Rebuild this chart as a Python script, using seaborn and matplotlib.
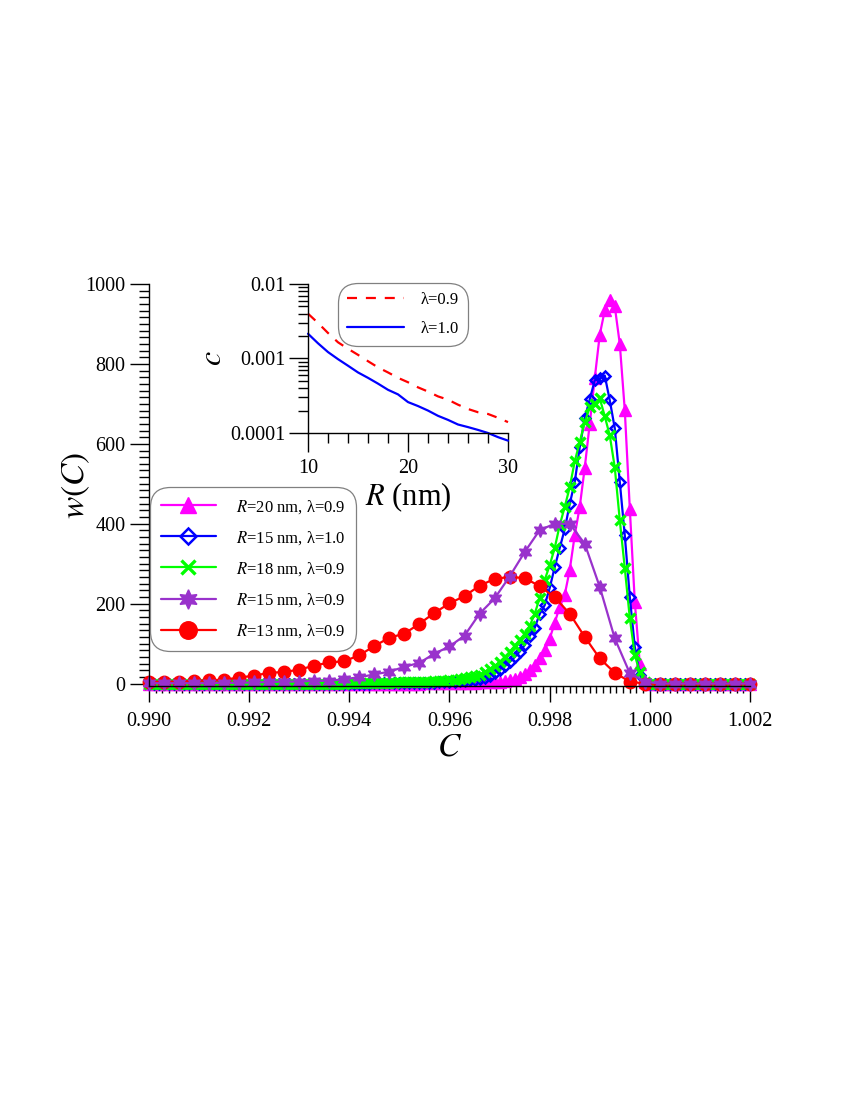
import numpy as np
import matplotlib
matplotlib.use("Agg")
import matplotlib.pyplot as plt
import seaborn as sns
from matplotlib.ticker import MultipleLocator, AutoMinorLocator, FixedLocator, FuncFormatter

# ---- main plot data: w(C) ----
# three curves sampled every 0.0001, two every 0.0003
c_fine = np.round(np.linspace(0.990, 1.002, 121), 4)
c_coarse = np.round(np.linspace(0.990, 1.002, 41), 4)

w_r20_l09 = ([0] * 50 +
             [0, 0, 0, 0, 0, 1, 1, 1, 1, 1,
              1, 1, 1, 2, 2, 2, 3, 3, 4, 4,
              5, 7, 9, 11, 17, 24, 34, 46, 63, 83,
              112, 152, 192, 222, 284, 371, 442, 540, 650, 764,
              873, 934, 959, 944, 850, 684, 438, 204, 49, 3] +
             [0] * 21)

w_r15_l10 = ([0] * 40 +
             [0, 0, 0, 0, 0, 1, 1, 1, 1, 1,
              1, 1, 1, 1, 2, 2, 2, 2, 3, 3,
              4, 5, 6, 7, 8, 10, 12, 15, 20, 27,
              35, 44, 54, 66, 80, 96, 119, 139, 174, 196,
              239, 291, 339, 386, 449, 504, 591, 664, 711, 759,
              764, 771, 709, 639, 505, 371, 217, 92, 21, 1] +
             [0] * 21)

w_r18_l09 = ([0] * 40 +
             [1, 1, 1, 1, 1, 2, 2, 2, 2, 2,
              3, 3, 3, 4, 4, 5, 5, 6, 7, 7,
              8, 9, 11, 14, 16, 19, 22, 29, 36, 44,
              54, 66, 79, 94, 109, 124, 144, 174, 214, 259,
              296, 339, 396, 442, 491, 556, 604, 654, 691, 699,
              714, 669, 621, 541, 409, 289, 164, 71, 29, 4] +
             [0] * 21)

w_r15_l09 = [1, 1, 1, 1, 1, 2, 2, 3, 4, 5,
             5, 7, 7, 11, 16, 23, 30, 42, 52, 75,
             93, 120, 175, 213, 268, 329, 384, 400, 400, 350,
             242, 113, 26, 5, 0, 0, 0, 0, 0, 0, 0]

w_r13_l09 = [4, 5, 5, 7, 8, 10, 15, 20, 27, 29,
             35, 45, 53, 56, 71, 94, 115, 125, 150, 177,
             201, 219, 245, 262, 267, 264, 244, 216, 175, 117,
             63, 27, 5, 0, 0, 0, 0, 0, 0, 0, 0]

# ---- inset data: c(R) ----
r_nm = list(range(10, 31))
c_l09 = [0.0040, 0.0030, 0.0022, 0.00165, 0.00135, 0.00112, 0.00092, 0.00076,
         0.00065, 0.00055, 0.00048, 0.00041, 0.00036, 0.00031, 0.00028,
         0.00024, 0.00021, 0.00019, 0.00018, 0.00016, 0.00014]
c_l10 = [0.00215, 0.00160, 0.00122, 0.00098, 0.00080, 0.00065, 0.00055,
         0.00046, 0.00038, 0.00033, 0.00026, 0.00023, 0.00020, 0.00017,
         0.00015, 0.00013, 0.00012, 0.00011, 0.00010, 0.000088, 0.000079]

sns.set_style("ticks")
plt.rcParams["font.family"] = ["Liberation Serif", "DejaVu Serif"]
plt.rcParams["mathtext.fontset"] = "stix"
plt.rcParams["axes.linewidth"] = 1.0
for k in ["text.color", "axes.labelcolor", "xtick.color", "ytick.color", "axes.edgecolor"]:
    plt.rcParams[k] = "black"

fig = plt.figure(figsize=(8.5, 11), dpi=100)
ax = fig.add_axes([149 / 850, 1 - 686 / 1100, 601 / 850, 402 / 1100])

series = [
    # x, y, colour, marker, size, face, edge width, label
    (c_fine, w_r20_l09, "#ff00ff", "^", 8, "#ff00ff", 1.0, r"$R$=20 nm, λ=0.9"),
    (c_fine, w_r15_l10, "#0000ff", "D", 5.5, "none", 1.8, r"$R$=15 nm, λ=1.0"),
    (c_fine, w_r18_l09, "#00ff00", "x", 7.5, "#00ff00", 2.4, r"$R$=18 nm, λ=0.9"),
    (c_coarse, w_r13_l09, "#ff0000", "o", 9, "#ff0000", 1.0, r"$R$=13 nm, λ=0.9"),
    (c_coarse, w_r15_l09, "#9932cc", (6, 1, 0), 10, "#9932cc", 1.0, r"$R$=15 nm, λ=0.9"),
]
for x, y, col, mk, ms, mfc, mew, lab in series:
    sns.lineplot(x=x, y=y, ax=ax, color=col, linewidth=1.6, marker=mk,
                 markersize=ms, markerfacecolor=mfc, markeredgecolor=col,
                 markeredgewidth=mew, errorbar=None, label=lab, clip_on=False)

ax.set_xlim(0.990, 1.002)
ax.set_ylim(-6, 1000)
ax.xaxis.set_major_locator(MultipleLocator(0.002))
ax.xaxis.set_minor_locator(AutoMinorLocator(15))
ax.xaxis.set_major_formatter(FuncFormatter(lambda v, p: f"{v:.3f}"))
ax.yaxis.set_major_locator(MultipleLocator(200))
ax.yaxis.set_minor_locator(AutoMinorLocator(12))
ax.tick_params(axis="x", which="major", length=11.5, width=1, labelsize=14.5, pad=7)
ax.tick_params(axis="x", which="minor", length=5, width=1)
ax.tick_params(axis="y", which="major", length=14, width=1, labelsize=14.5, pad=3)
ax.tick_params(axis="y", which="minor", length=7, width=1)
sns.despine(ax=ax)
ax.set_xlabel("$C$", fontsize=24)
ax.set_ylabel("$w(C)$", fontsize=24)
ax.xaxis.set_label_coords(0.5, -0.115)
ax.yaxis.set_label_coords(-0.095, 0.5)

h, l = ax.get_legend_handles_labels()
order = [0, 1, 2, 4, 3]
leg = ax.legend([h[i] for i in order], [l[i] for i in order], loc="upper left",
                bbox_to_anchor=(150 / 850, 1 - 487 / 1100), bbox_transform=fig.transFigure,
                borderaxespad=0, fontsize=12, markerscale=1.4, handlelength=3.3,
                handletextpad=1.2, labelspacing=0.8, borderpad=0.65,
                frameon=True, fancybox=True, framealpha=1, edgecolor="#808080")
leg.get_frame().set_boxstyle("round", pad=0, rounding_size=1.2)
leg.get_frame().set_linewidth(0.9)

# ---- inset ----
axin = fig.add_axes([308 / 850, 1 - 433 / 1100, 200 / 850, 149 / 1100])
axin.set_facecolor("white")
sns.lineplot(x=r_nm, y=c_l09, ax=axin, color="#ff0000", linewidth=1.6,
             linestyle=(0, (4.5, 4)), errorbar=None, label="λ=0.9", clip_on=False)
sns.lineplot(x=r_nm, y=c_l10, ax=axin, color="#0000ff", linewidth=1.6,
             errorbar=None, label="λ=1.0", clip_on=False)
axin.set_yscale("log")
axin.set_xlim(10, 30)
axin.set_ylim(1e-4, 1e-2)
axin.xaxis.set_major_locator(FixedLocator([10, 20, 30]))
axin.xaxis.set_minor_locator(MultipleLocator(2))
axin.yaxis.set_major_locator(FixedLocator([1e-4, 1e-3, 1e-2]))
axin.yaxis.set_major_formatter(FuncFormatter(lambda v, p: {1e-4: "0.0001", 1e-3: "0.001", 1e-2: "0.01"}.get(v, "")))
axin.tick_params(which="major", length=14, width=1, labelsize=14.5)
axin.tick_params(axis="x", which="major", pad=5)
axin.tick_params(axis="y", which="major", pad=2)
axin.tick_params(which="minor", length=7, width=1)
sns.despine(ax=axin)
axin.set_xlabel("$R$ (nm)", fontsize=22)
axin.set_ylabel("$c$", fontsize=23)
axin.xaxis.set_label_coords(0.5, -0.32)
axin.yaxis.set_label_coords(-0.40, 0.5)
leg2 = axin.legend(loc="upper left", bbox_to_anchor=(338 / 850, 1 - 283 / 1100),
                   bbox_transform=fig.transFigure, borderaxespad=0, fontsize=12,
                   handlelength=3.4, handletextpad=1.0, labelspacing=0.75,
                   borderpad=0.55, frameon=True, fancybox=True, framealpha=1,
                   edgecolor="#808080")
leg2.get_frame().set_boxstyle("round", pad=0, rounding_size=1.2)
leg2.get_frame().set_linewidth(0.9)

fig.savefig("out.png", dpi=100)
